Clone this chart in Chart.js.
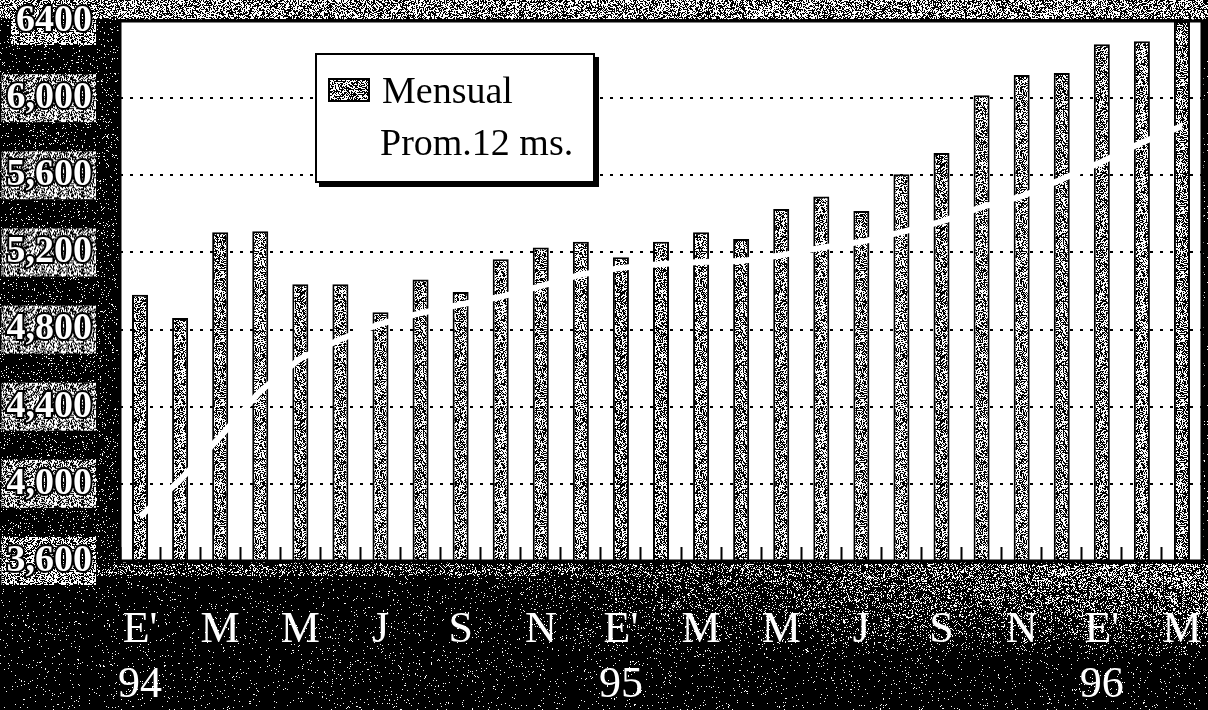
<!DOCTYPE html>
<html><head><meta charset="utf-8">
<script src="https://cdn.jsdelivr.net/npm/chart.js@4"></script>
<style>
html,body{margin:0;padding:0;background:#000;}
#wrap{position:relative;width:1208px;height:710px;overflow:hidden;}
#legend{position:absolute;left:315px;top:53px;width:276px;height:126px;background:#fff;border:2px solid #000;box-shadow:4px 4px 0 #000;font-family:"Liberation Serif","Times New Roman",serif;font-size:38px;color:#000;}
#legend .item{position:absolute;white-space:nowrap;line-height:1;}
#mk{position:absolute;left:11px;top:23px;border:2px solid #000;}
</style></head>
<body>
<div id="wrap">
<canvas id="c" width="1208" height="710"></canvas>
<div id="legend">
  <canvas id="mk" width="38" height="20"></canvas>
  <div class="item" style="left:65px;top:16px">Mensual</div>
  <div class="item" style="left:63px;top:68px">Prom.12 ms.</div>
</div>
</div>
<script>
// ---- data ----
const months = ["E'","F","M","A","M","J","J","A","S","O","N","D","E'","F","M","A","M","J","J","A","S","O","N","D","E'","F","M"];
const years  = ["94","","","","","","","","","","","","95","","","","","","","","","","","","96","",""];
const mensual = [4980,4860,5305,5310,5035,5035,4890,5060,4995,5165,5225,5255,5175,5255,5305,5270,5425,5490,5415,5605,5715,6015,6120,6130,6280,6295,6400];
const prom12  = [3830,4020,4245,4480,4650,4750,4830,4885,4930,4970,5025,5085,5120,5140,5150,5155,5185,5225,5255,5305,5360,5435,5490,5580,5670,5770,5855];
const yTickLabels = ["3,600","4,000","4,400","4,800","5,200","5,600","6,000","6400"];

// ---- texture helpers (styling only) ----
function hash(x,y,s){
  let n = (Math.imul(x,374761393) + Math.imul(y,668265263) + Math.imul(s,1442695041))|0;
  n = Math.imul(n ^ (n>>>13), 1274126177);
  n = n ^ (n>>>16);
  return (n>>>0)/4294967296;
}
function noiseCanvas(w,h,dens,seed){
  const c=document.createElement('canvas'); c.width=w; c.height=h;
  const g=c.getContext('2d'); const im=g.createImageData(w,h); const d=im.data;
  for(let y=0;y<h;y++)for(let x=0;x<w;x++){
    const v = hash(x,y,seed) < dens(x,y) ? 255 : 0;
    const k=(y*w+x)*4; d[k]=d[k+1]=d[k+2]=v; d[k+3]=255;
  }
  g.putImageData(im,0,0); return c;
}
const barTex = noiseCanvas(64,64,()=>0.5,7);
const ctxMain = document.getElementById('c').getContext('2d');
const barPattern = ctxMain.createPattern(barTex,'repeat');
const labTex = noiseCanvas(64,64,()=>0.55,11);
const labPattern = ctxMain.createPattern(labTex,'repeat');
const mk = document.getElementById('mk').getContext('2d');
mk.fillStyle = mk.createPattern(barTex,'repeat'); mk.fillRect(0,0,38,20);

function clamp(v){return Math.max(0,Math.min(1,v));}
const bgTex = noiseCanvas(1208,710,(x,y)=>{
  if (y < 19) return 0.5;
  if (y > 563) {
    let d = 0.03 + 0.42*clamp((x-450)/650)*clamp((660-y)/95);
    if (y < 576) d = Math.max(d, 0.25);
    return d;
  }
  return 0.06;
},3);

const bgPlugin = {
  id:'bg',
  beforeDraw(chart){
    const {ctx, chartArea:a} = chart;
    ctx.save();
    ctx.drawImage(bgTex,0,0);
    ctx.fillStyle='#fff';
    ctx.fillRect(a.left,a.top,a.right-a.left,a.bottom-a.top);
    ctx.restore();
  },
  afterDraw(chart){
    const {ctx, chartArea:a} = chart;
    ctx.save();
    ctx.strokeStyle='#000';
    ctx.lineWidth=3;
    ctx.strokeRect(a.left,a.top,a.right-a.left,a.bottom-a.top);
    ctx.lineWidth=2;
    ctx.beginPath(); ctx.moveTo(a.right+4,a.top-2); ctx.lineTo(a.right+4,a.bottom); ctx.stroke();
    ctx.restore();
  }
};

new Chart(ctxMain,{
  data:{
    labels: months,
    datasets:[
      {type:'line', label:'Prom.12 ms.', data:prom12, borderColor:'#fff', borderWidth:6, pointRadius:0, tension:0, order:0},
      {type:'bar', label:'Mensual', data:mensual, backgroundColor:barPattern, borderColor:'#000', borderWidth:2, borderSkipped:'bottom', categoryPercentage:1, barPercentage:0.4, order:1}
    ]
  },
  options:{
    responsive:false,
    animation:false,
    layout:{padding:{top:21,right:6,left:0,bottom:0}},
    plugins:{legend:{display:false}, tooltip:{enabled:false}},
    scales:{
      x:{
        offset:true,
        grid:{display:true, drawOnChartArea:false, drawTicks:true, tickLength:-14, tickColor:'#000', tickWidth:2, offset:true},
        border:{display:false},
        ticks:{
          autoSkip:false, maxRotation:0, minRotation:0, padding:55,
          color:'#fff',
          font:{family:'"Liberation Serif","Times New Roman",serif', size:44, lineHeight:1.27},
          callback:(v,i)=> i%2===0 ? [months[i], years[i]] : ''
        },
        afterFit(s){ s.height = 149; s.paddingLeft = 0; s.paddingRight = 0; }
      },
      y:{
        min:3600, max:6400,
        grid:{color:(c)=> (c.tick && (c.tick.value===3600 || c.tick.value===6400)) ? 'rgba(0,0,0,0)' : '#000', lineWidth:2, tickColor:'#000', tickLength:13, tickWidth:2},
        border:{display:false, dash:[3,7]},
        ticks:{
          stepSize:400, padding:15,
          color:'#fff', textStrokeColor:'#000', textStrokeWidth:4,
          font:{family:'"Liberation Serif","Times New Roman",serif', size:38, weight:'bold', lineHeight:1},
          showLabelBackdrop:true, backdropColor:labPattern, backdropPadding:{left:5,right:4,top:5,bottom:5},
          callback:(v,i)=> yTickLabels[i]
        },
        afterFit(s){ s.width = 120; s.paddingTop = 0; s.paddingBottom = 0; }
      }
    }
  },
  plugins:[bgPlugin]
});
</script>
</body></html>
